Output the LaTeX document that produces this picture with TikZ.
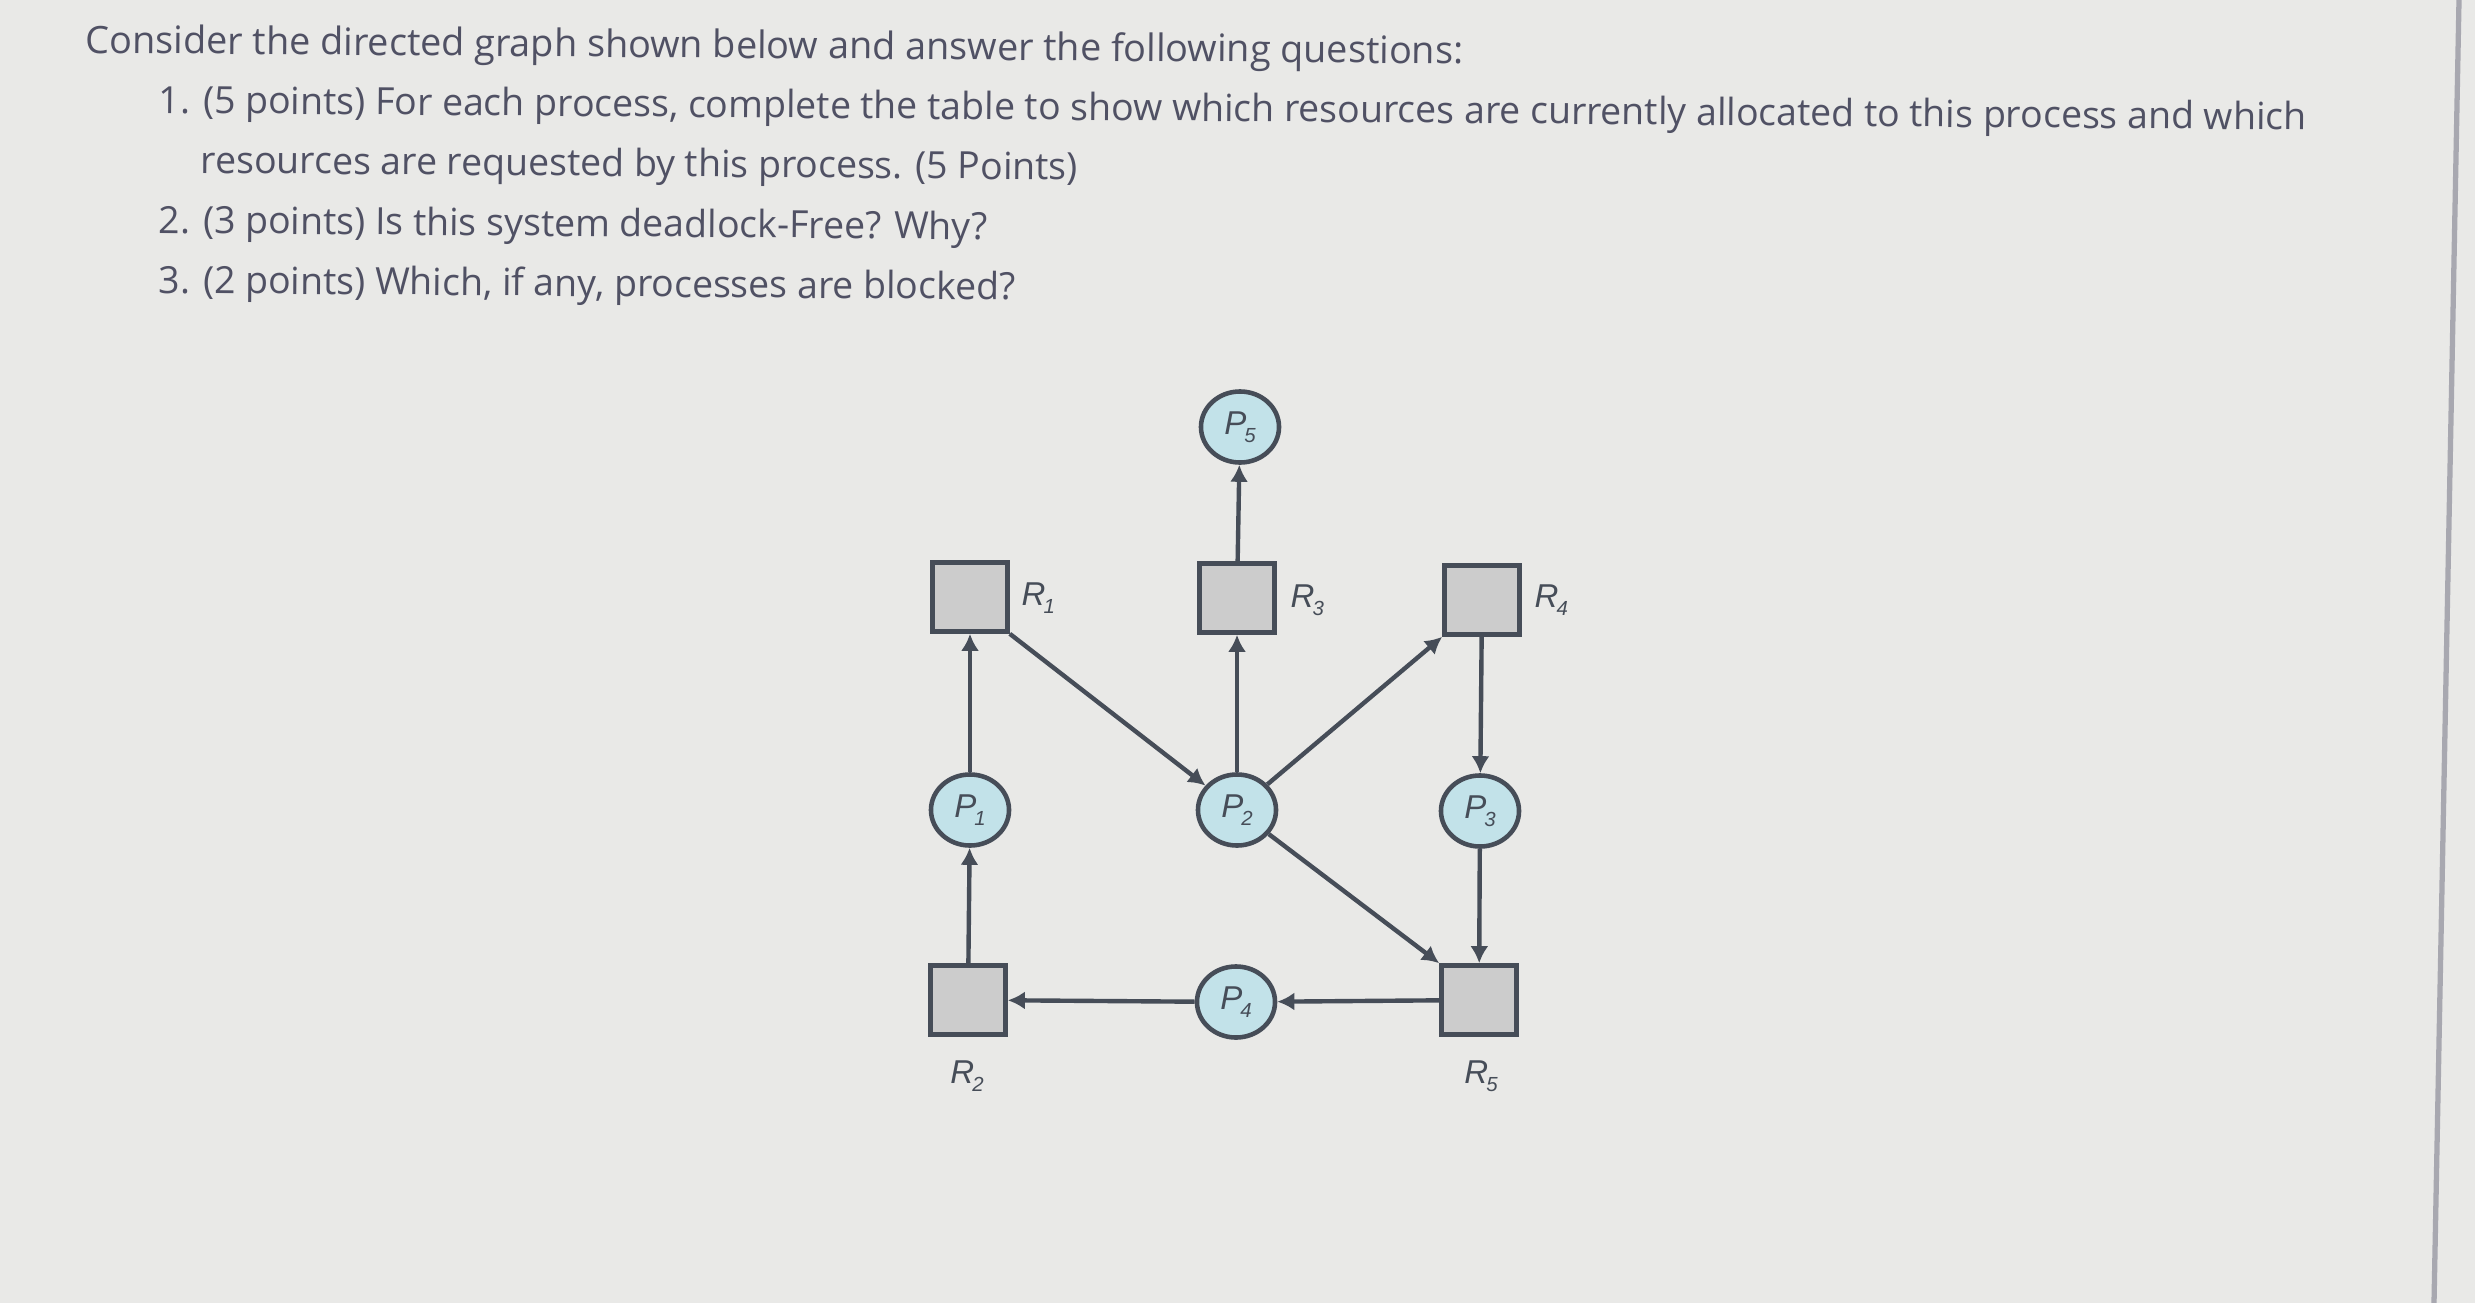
\documentclass[tikz,border=0pt]{standalone}
\usepackage{fontspec}
\setmainfont{Open Sans}
\newfontfamily\lblfont{Liberation Sans}
\usetikzlibrary{shapes.geometric,arrows.meta}
\definecolor{bgc}{RGB}{233,233,231}
\definecolor{txt}{RGB}{80,81,100}
\definecolor{edge}{RGB}{70,77,88}
\definecolor{procfill}{RGB}{194,226,233}
\definecolor{resfill}{RGB}{204,204,204}
\definecolor{scr}{RGB}{168,168,176}
\newcommand{\plbl}[2]{{\lblfont\itshape\fontsize{9.4}{10}\selectfont #1\kern-0.02cm\raisebox{-0.08cm}{\fontsize{5.8}{6}\selectfont #2}}}
\tikzset{
  qline/.style={anchor=base west, inner sep=0, text=txt, rotate=-0.45, font=\fontsize{10.65}{12}\selectfont},
  proc/.style={ellipse, draw=edge, line width=1.3pt, fill=procfill, minimum width=0.78cm, minimum height=0.71cm, inner sep=0, text=edge},
  res/.style={rectangle, draw=edge, line width=1.3pt, fill=resfill, minimum width=0.75cm, minimum height=0.69cm, inner sep=0},
  rlbl/.style={inner sep=0, text=edge},
  conn/.style={draw=edge, line width=1.25pt, -{Latex[length=0.17cm,width=0.18cm]}},
}
\begin{document}
\begin{tikzpicture}[x=0.01cm,y=-0.01cm]
\fill[bgc] (0,0) rectangle (2475,1303);
\useasboundingbox (0,0) rectangle (2475,1303);
\draw[scr, line width=1.5pt] (2459,0) -- (2434,1303);
% question text
\node[qline, font=\fontsize{10.75}{12}\selectfont] (t0) at (85,53) {Consider the directed graph shown below and answer the following questions:};
\node[qline] (t1) at (158,113) {1. (5 points) For each process, complete the table to show which resources are currently allocated to this process and which};
\node[qline] (t2) at (200,173) {resources are requested by this process. (5 Points)};
\node[qline] (t3) at (158,233) {2. (3 points) Is this system deadlock-Free? Why?};
\node[qline] (t4) at (158,293) {3. (2 points) Which, if any, processes are blocked?};
% resources
\node[res] (R1) at (970,597) {};
\node[res] (R3) at (1237,598) {};
\node[res] (R4) at (1482,600) {};
\node[res] (R2) at (968,1000) {};
\node[res] (R5) at (1479,1000) {};
% processes
\node[proc] (P5) at (1240,427) {\plbl{P}{5}};
\node[proc] (P1) at (970,810) {\plbl{P}{1}};
\node[proc] (P2) at (1237,810) {\plbl{P}{2}};
\node[proc] (P3) at (1480,811) {\plbl{P}{3}};
\node[proc] (P4) at (1236,1002) {\plbl{P}{4}};
% resource labels
\node[rlbl, anchor=west] (L1) at (1021,598) {\plbl{R}{1}};
\node[rlbl, anchor=west] (L3) at (1290,600) {\plbl{R}{3}};
\node[rlbl, anchor=west] (L4) at (1534,600) {\plbl{R}{4}};
\node[rlbl] (L2) at (967,1076) {\plbl{R}{2}};
\node[rlbl] (L5) at (1481,1076) {\plbl{R}{5}};
% connectors
\draw[conn] (P1) -- (R1);
\draw[conn] (R1.south east) -- (P2);
\draw[conn] (P2) -- (R3);
\draw[conn] (R3) -- (P5);
\draw[conn] (P2) -- (R4.south west);
\draw[conn] (R4) -- (P3);
\draw[conn] (P2) -- (R5.north west);
\draw[conn] (P3) -- (R5);
\draw[conn] (R5) -- (P4);
\draw[conn] (P4) -- (R2);
\draw[conn] (R2) -- (P1);
\end{tikzpicture}
\end{document}
